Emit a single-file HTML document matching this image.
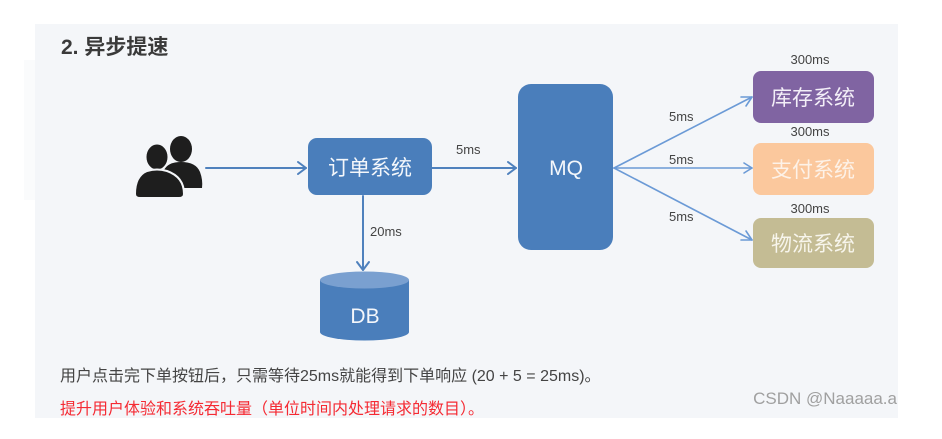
<!DOCTYPE html>
<html><head><meta charset="utf-8"><style>
html,body{margin:0;padding:0;background:#fff;}
svg{display:block;}
text{font-family:"Liberation Sans","Noto Sans CJK SC",sans-serif;}
</style></head><body>
<svg width="942" height="439" viewBox="0 0 942 439" xmlns="http://www.w3.org/2000/svg">
<rect x="0" y="0" width="942" height="439" fill="#ffffff"/>
<rect x="24" y="60" width="12" height="140" fill="#fafbfc"/>
<rect x="35" y="24" width="863" height="394" fill="#f4f6f9"/>

<text x="61" y="54" font-size="21" font-weight="bold" fill="#3a3a3a">2. 异步提速</text>

<!-- people icon -->
<g fill="#1e1e1e">
  <ellipse cx="181" cy="149" rx="11" ry="13"/>
  <path d="M164 170 Q168 162 181 162 Q196 162 200 172 Q203 180 202 188 L166 188 Z"/>
  <ellipse cx="157" cy="157" rx="11.5" ry="13.5" stroke="#f4f6f9" stroke-width="2"/>
  <path d="M135 194 Q135 176 147 171 Q157 168 167 171 Q184 177 184 194 Q184 198 179 198 L140 198 Q135 198 135 194 Z" stroke="#f4f6f9" stroke-width="2"/>
</g>

<!-- connectors -->
<g stroke="#4f81bd" stroke-width="2" fill="none" stroke-linecap="round" stroke-linejoin="round">
  <line x1="206" y1="168" x2="306" y2="168"/>
  <polyline points="298,162 306,168 298,174"/>
  <line x1="432" y1="168" x2="516" y2="168"/>
  <polyline points="508,162 516,168 508,174"/>
  <line x1="363" y1="196" x2="363" y2="270"/>
  <polyline points="357,262 363,270 369,262"/>
</g>
<g stroke="#6b9ad6" stroke-width="1.6" fill="none" stroke-linecap="round" stroke-linejoin="round">
  <line x1="614" y1="168" x2="752" y2="97"/>
  <polyline points="741,97 752,97 746,106"/>
  <line x1="614" y1="168" x2="752" y2="168"/>
  <polyline points="744,163 752,168 744,173"/>
  <line x1="614" y1="168" x2="752" y2="240"/>
  <polyline points="746,231 752,240 741,240"/>
</g>

<!-- labels -->
<g font-size="13" fill="#444">
  <text x="456" y="154">5ms</text>
  <text x="370" y="236">20ms</text>
  <text x="669" y="121">5ms</text>
  <text x="669" y="164">5ms</text>
  <text x="669" y="221">5ms</text>
  <text x="810" y="64" text-anchor="middle">300ms</text>
  <text x="810" y="136" text-anchor="middle">300ms</text>
  <text x="810" y="213" text-anchor="middle">300ms</text>
</g>

<!-- order box -->
<rect x="308" y="138" width="124" height="57" rx="9" fill="#4a7ebb"/>
<text x="370" y="175" font-size="21" fill="#f4f7fb" text-anchor="middle">订单系统</text>

<!-- MQ -->
<rect x="518" y="84" width="95" height="166" rx="13" fill="#4a7ebb"/>
<text x="566" y="175" font-size="21" fill="#f4f7fb" text-anchor="middle">MQ</text>

<!-- DB -->
<path d="M320 280 L320 332 A44.5 8.5 0 0 0 409 332 L409 280 Z" fill="#4a7ebb"/>
<ellipse cx="364.5" cy="280" rx="44.5" ry="8.5" fill="#7aa0d0"/>
<text x="365" y="323" font-size="21" fill="#f4f7fb" text-anchor="middle">DB</text>

<!-- right boxes -->
<rect x="753" y="71" width="121" height="52" rx="8" fill="#8064a2"/>
<text x="813" y="105" font-size="21" fill="#f3eff8" text-anchor="middle">库存系统</text>
<rect x="753" y="143" width="121" height="52" rx="8" fill="#fbc89d"/>
<text x="813" y="177" font-size="21" fill="#fdf2e8" text-anchor="middle">支付系统</text>
<rect x="753" y="218" width="121" height="50" rx="8" fill="#c4bc94"/>
<text x="813" y="251" font-size="21" fill="#f7f5ec" text-anchor="middle">物流系统</text>

<!-- bottom text -->
<text x="60" y="381" font-size="16" fill="#444">用户点击完下单按钮后，只需等待25ms就能得到下单响应 (20 + 5 = 25ms)。</text>
<text x="60" y="414" font-size="16" fill="#f52a33">提升用户体验和系统吞吐量（单位时间内处理请求的数目）。</text>
<text x="897" y="404" font-size="17" fill="#a0a0a0" text-anchor="end">CSDN @Naaaaa.a</text>
</svg>
</body></html>
